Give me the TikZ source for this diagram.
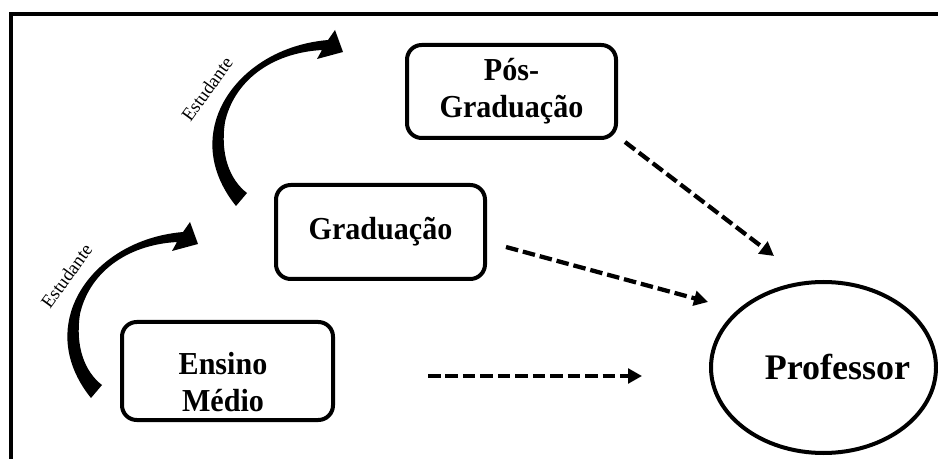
\documentclass[tikz,border=0pt]{standalone}
\usepackage{fontspec}
\setmainfont{Liberation Serif}
\newfontfamily\caixafont{Liberation Serif}[FakeStretch=0.94]
\usetikzlibrary{arrows.meta,shapes.geometric}

\begin{document}
\begin{tikzpicture}[x=0.75pt,y=0.75pt,yscale=-1,xscale=1,
  caixa/.style={draw, line width=3pt, rounded corners=11pt, inner sep=0pt, align=center, font=\caixafont\bfseries\fontsize{24}{27.5}\selectfont},
  texto/.style={inner sep=0pt, align=center, font=\caixafont\bfseries\fontsize{24}{27.5}\selectfont},
  seta/.style={line width=3.2pt, dash pattern=on 9.4pt off 3.7pt, -{Triangle[length=10.5pt,width=11pt]}},
  estudante/.style={inner sep=0pt, rotate=54, font=\fontsize{14}{16}\selectfont}]

\useasboundingbox (0,0) rectangle (938,459);
\clip (0,0) rectangle (938,459);
\draw [line width=3pt] (10.5,13.8) rectangle (960,480);

\node [caixa, minimum width=156.75pt, minimum height=69.75pt] (pos) at (511.5,91.5) {Pós-\\Graduação};
\node [caixa, minimum width=156.75pt, minimum height=70.5pt] (grad) at (380.5,232) {Graduação};
\node [caixa, minimum width=158.25pt, minimum height=73.5pt] (ensino) at (227.5,371) {};
\node [texto] (ensinotxt) at (223,382) {Ensino\\Médio};

\node [draw, ellipse, line width=3pt, inner sep=0pt, minimum width=168.75pt, minimum height=128.25pt] (prof) at (823.5,367.5) {};
\node [texto, font=\bfseries\fontsize{27}{32}\selectfont] (proftxt) at (837.5,367) {Professor};

\coordinate (e1) at (428,376);  \coordinate (e2) at (642,376);
\coordinate (g1) at (506,247);  \coordinate (g2) at (708,302);
\coordinate (p1) at (625,142);  \coordinate (p2) at (774,256);
\draw [seta] (e1) -- (e2);
\draw [seta] (g1) -- (g2);
\draw [seta] (p1) -- (p2);

\foreach \dx/\dy in {0/0,-145/192}
  \fill [shift={(\dx,\dy)}] (236,206) .. controls (215,180) and (207,150) .. (216,120)
     .. controls (228,80) and (270,45) .. (328,40) -- (335,30) -- (343,52) -- (317,59) -- (322,50)
     .. controls (270,53) and (234,82) .. (225,122) .. controls (220,155) and (230,180) .. (247,193) -- cycle;

\node [estudante] (est1) at (207,89) {Estudante};
\node [estudante] (est2) at (66.5,276) {Estudante};

\end{tikzpicture}
\end{document}
